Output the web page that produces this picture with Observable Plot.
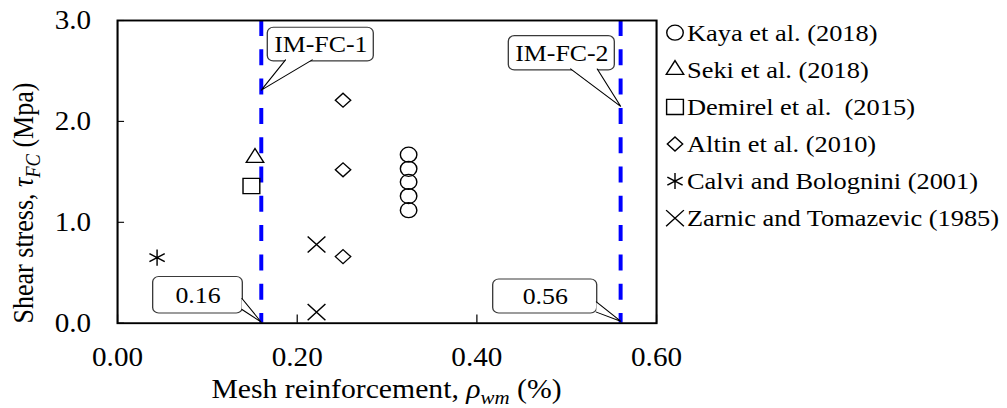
<!DOCTYPE html>
<html><head><meta charset="utf-8">
<script src="https://cdn.jsdelivr.net/npm/d3@7"></script>
<script src="https://cdn.jsdelivr.net/npm/@observablehq/plot@0.6"></script>
<style>
html,body{margin:0;padding:0;background:#fff;}
#chart{width:1007px;height:408px;overflow:hidden;}
</style></head><body><div id="chart"></div>
<script>
// ---- data ----
const kayaX = [0.324, 0.324, 0.324, 0.324, 0.324];
const kayaY = [1.67, 1.53, 1.40, 1.26, 1.12];
const sekiX = [0.153];
const sekiY = [1.64];
const demirelX = [0.149];
const demirelY = [1.36];
const altinX = [0.251, 0.251, 0.251];
const altinY = [2.21, 1.52, 0.66];
const calviX = [0.044];
const calviY = [0.65];
const zarnicX = [0.2215, 0.2215];
const zarnicY = [0.78, 0.11];
const limitX = [0.16, 0.56];
const seriesNames = ["Kaya et al. (2018)", "Seki et al. (2018)", "Demirel et al.  (2015)",
  "Altin et al. (2010)", "Calvi and Bolognini (2001)", "Zarnic and Tomazevic (1985)"];
const xTicks = [0, 0.2, 0.4, 0.6];
const yTicks = [0, 1, 2, 3];
// callouts (data units)
const calloutLabels = ["IM-FC-1", "IM-FC-2", "0.16", "0.56"];
const calloutBoxX1 = [0.1673, 0.4356, 0.0397, 0.4182];
const calloutBoxX2 = [0.2853, 0.5536, 0.1395, 0.5340];
const calloutBoxY1 = [2.594, 2.505, 0.096, 0.096];
const calloutBoxY2 = [2.928, 2.845, 0.458, 0.433];
const calloutTipX = [0.16, 0.56, 0.16, 0.56];
const calloutTipY = [2.31, 2.15, 0.01, 0.02];
const calloutBaseAX = [0.187, 0.5043, 0.1385, 0.5330];
const calloutBaseAY = [2.61, 2.52, 0.245, 0.211];
const calloutBaseBX = [0.2167, 0.534, 0.1385, 0.5330];
const calloutBaseBY = [2.61, 2.52, 0.136, 0.11];

// ---- layout ----
const S = 1007 / 915;           // horizontal stretch of the picture
const W = 915, H = 408;
const mL = 117 / S, mR = W - 656 / S, mT = 20, mB = H - 322.7;
const FONT = "'Liberation Serif', 'Times New Roman', serif";
const ink = "black";

const idx = calloutLabels.map((_, i) => i);
const wedge = idx.flatMap(i => [
  {k: i, x: calloutBaseAX[i], y: calloutBaseAY[i]},
  {k: i, x: calloutTipX[i], y: calloutTipY[i]},
  {k: i, x: calloutBaseBX[i], y: calloutBaseBY[i]}
]);

const dotStyle = {stroke: ink, strokeWidth: 1.3, fill: "none"};
const markerSym = ["circle", "triangle", "square", "diamond2", "asterisk", "times"];
const markerR = [7.5, 5.9, 8.6, 6.3, 7.6, 7.4];
const seriesX = [kayaX, sekiX, demirelX, altinX, calviX, zarnicX];
const seriesY = [kayaY, sekiY, demirelY, altinY, calviY, zarnicY];

const plotW = W - mL - mR, plotH = H - mT - mB;

const chart = Plot.plot({
  width: W, height: H,
  marginLeft: mL, marginRight: mR, marginTop: mT, marginBottom: mB,
  style: {fontFamily: FONT, fontSize: "26.5px", background: "white", color: "black"},
  x: {domain: [0, 0.6]},
  y: {domain: [0, 3]},
  marks: [
    Plot.axisY({ticks: yTicks, tickFormat: d3.format(".1f"), tickSize: 0, tickPadding: 24, fontSize: 26.5, label: null}),
    Plot.axisX({ticks: xTicks, tickFormat: d3.format(".2f"), tickSize: 0, tickPadding: 24, fontSize: 26.5, label: null}),
    Plot.tickY(yTicks, {y: d => d, stroke: ink, strokeWidth: 1.1, insetRight: plotW - 6.4}),
    Plot.tickX(xTicks, {x: d => d, stroke: ink, strokeWidth: 1.1, insetTop: plotH - 8.3}),
    Plot.ruleX(limitX, {x: d => d, stroke: "#0000ff", strokeWidth: 3.6, strokeDasharray: "16,13.3"}),
    ...seriesY.map((ys, s) => Plot.dot(ys, {x: (d, i) => seriesX[s][i], y: d => d,
      symbol: markerSym[s], r: markerR[s], ...dotStyle})),
    Plot.rect(idx, {x1: i => calloutBoxX1[i], x2: i => calloutBoxX2[i],
      y1: i => calloutBoxY1[i], y2: i => calloutBoxY2[i],
      rx: 5.5, fill: "white", stroke: "#3a3a3a", strokeWidth: 1.2}),
    Plot.line(wedge, {x: "x", y: "y", z: "k", fill: "white", stroke: ink, strokeWidth: 1}),
    Plot.text(idx, {x: i => (calloutBoxX1[i] + calloutBoxX2[i]) / 2,
      y: i => (calloutBoxY1[i] + calloutBoxY2[i]) / 2,
      text: i => calloutLabels[i], fontSize: 23.5, fill: ink}),
    Plot.frame({stroke: ink, strokeWidth: 1.9})
  ]
});

const svg = d3.select(chart);

// axis titles with italic symbols and subscripts
const xt = svg.append("text")
  .attr("x", mL + plotW / 2).attr("y", 398)
  .attr("text-anchor", "middle").attr("fill", ink)
  .style("font-family", FONT).style("font-size", "27px");
xt.append("tspan").text("Mesh reinforcement, ");
xt.append("tspan").style("font-style", "italic").text("ρ");
xt.append("tspan").style("font-style", "italic").style("font-size", "19px").attr("dy", 6).text("wm");
xt.append("tspan").attr("dy", -6).text(" (%)");

const yt = svg.append("text")
  .attr("transform", `translate(${33 / S},${203}) rotate(-90)`)
  .attr("text-anchor", "middle").attr("fill", ink)
  .style("font-family", FONT).style("font-size", "26px");
yt.append("tspan").text("Shear stress, ");
yt.append("tspan").style("font-style", "italic").text("τ");
yt.append("tspan").style("font-style", "italic").style("font-size", "18.5px").attr("dy", 6).text("FC");
yt.append("tspan").attr("dy", -6).text(" (Mpa)");

// legend
const legendTypes = {circle: d3.symbolCircle, triangle: d3.symbolTriangle, square: d3.symbolSquare,
  diamond2: d3.symbolDiamond2, asterisk: d3.symbolAsterisk, times: d3.symbolTimes};
const lg = svg.append("g").attr("text-anchor", "start");
seriesNames.forEach((name, s) => {
  const cy = 32.7 + s * 37.1;
  lg.append("path")
    .attr("transform", `translate(${675 / S},${cy})`)
    .attr("d", d3.symbol(legendTypes[markerSym[s]], Math.PI * markerR[s] * markerR[s])())
    .attr("fill", "none").attr("stroke", ink).attr("stroke-width", 1.3);
  lg.append("text")
    .attr("x", 687 / S).attr("y", cy + 8)
    .attr("text-anchor", "start")
    .attr("fill", ink)
    .style("font-family", FONT).style("font-size", "24px").style("white-space", "pre")
    .text(name);
});

chart.setAttribute("width", 1007);
chart.setAttribute("height", 408);
chart.setAttribute("preserveAspectRatio", "none");
chart.style.width = "1007px";
chart.style.height = "408px";
chart.style.maxWidth = "none";
document.getElementById("chart").appendChild(chart);
</script></body></html>
